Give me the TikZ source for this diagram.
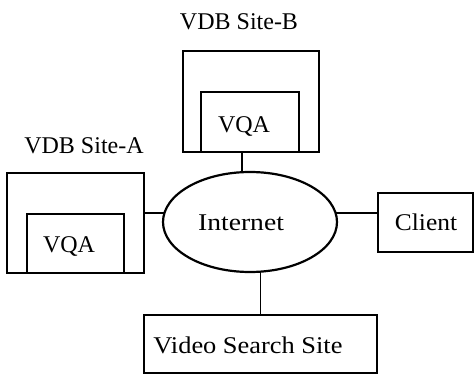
\documentclass[tikz,border=0pt]{standalone}
\usepackage{fontspec}
\setmainfont{Liberation Serif}
\usetikzlibrary{calc,shapes.geometric}
\begin{document}
\begin{tikzpicture}[x=1pt,y=-1pt,
  box/.style={draw=black, line width=1.2pt, rectangle, inner sep=0pt, outer sep=0pt},
  cloud/.style={draw=black, line width=2.2pt, ellipse, inner sep=0pt, outer sep=0pt},
  conn/.style={draw=black, line width=1.2pt},
  txt/.style={anchor=base, inner sep=0pt, font=\fontsize{24}{28}\selectfont}]
\useasboundingbox (0,0) rectangle (474,374);
% boxes
\node[box, minimum width=136pt, minimum height=101pt] (outerB) at (251,101.5) {};
\node[box, minimum width=98pt, minimum height=60pt] (innerB) at (250,122) {};
\node[box, minimum width=137pt, minimum height=100pt] (outerA) at (75.5,223) {};
\node[box, minimum width=97pt, minimum height=59pt] (innerA) at (75.5,243.5) {};
\node[cloud, minimum width=174pt, minimum height=100pt] (net) at (250,222) {};
\node[box, minimum width=95pt, minimum height=59pt] (client) at (425.5,222.5) {};
\node[box, minimum width=233pt, minimum height=58pt] (vss) at (260.5,344) {};
% texts
\node[txt] (labB) at (239,30) {VDB Site-B};
\node[txt] (labA) at (84,154) {VDB Site-A};
\node[txt] (vqaBt) at (244,133) {VQA};
\node[txt] (vqaAt) at (69,252) {VQA};
\node[txt] (nett) at (241,231) {\scalebox{1.15}[1]{Internet}};
\node[txt] (clientt) at (426,231) {\scalebox{1.06}[1]{Client}};
\node[txt] (vsst) at (248,353) {\scalebox{1.1}[1]{Video Search Site}};
% connectors
\draw[conn] ($(outerB.south)+(-9,0)$) -- ($(net.north)+(-8,0)$);
\draw[conn] (net.174) -- (net.174 -| outerA.east);
\draw[conn] (net.6) -- (net.6 -| client.west);
\draw[conn] (vss.north) -- (vss.north |- net.south);
\end{tikzpicture}
\end{document}
